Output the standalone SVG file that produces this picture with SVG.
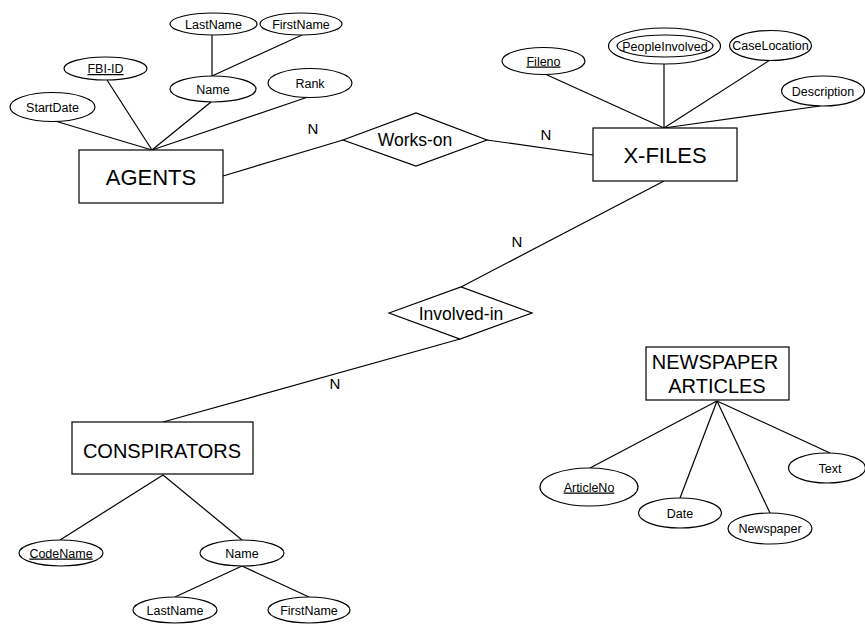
<svg xmlns="http://www.w3.org/2000/svg" width="865" height="624" viewBox="0 0 865 624">
<style>
  .shape { fill: #ffffff; stroke: #000000; stroke-width: 1.2; }
  .line { fill: none; stroke: #000000; stroke-width: 1.2; }
  text { font-family: "Liberation Sans", Arial, Helvetica, sans-serif; fill: #000000; text-anchor: middle; }
  .attr { font-size: 12.5px; }
  .key { font-size: 12.5px; text-decoration: underline; }
  .ent { font-size: 22px; }
  .ent2 { font-size: 20px; }
  .rel { font-size: 17.5px; }
  .card { font-size: 15px; }
</style>
<rect width="865" height="624" fill="#ffffff"/>
<g id="connectors">
  <!-- AGENTS attributes -->
  <line class="line" x1="55" y1="121" x2="152" y2="150"/>
  <line class="line" x1="107" y1="80" x2="152" y2="150"/>
  <line class="line" x1="211" y1="102" x2="152" y2="150"/>
  <line class="line" x1="308" y1="97" x2="152" y2="150"/>
  <line class="line" x1="212" y1="35" x2="212" y2="76"/>
  <line class="line" x1="302" y1="35" x2="212" y2="76"/>
  <!-- X-FILES attributes -->
  <line class="line" x1="545" y1="74" x2="664" y2="128"/>
  <line class="line" x1="664" y1="64" x2="664" y2="128"/>
  <line class="line" x1="770" y1="60" x2="664" y2="128"/>
  <line class="line" x1="820" y1="106" x2="664" y2="128"/>
  <!-- relationships -->
  <line class="line" x1="223" y1="176" x2="343" y2="140"/>
  <line class="line" x1="487" y1="140" x2="593" y2="155"/>
  <line class="line" x1="664" y1="181" x2="461" y2="287"/>
  <line class="line" x1="460" y1="339" x2="163" y2="422"/>
  <!-- CONSPIRATORS attributes -->
  <line class="line" x1="163" y1="475" x2="60" y2="540"/>
  <line class="line" x1="163" y1="475" x2="242" y2="540"/>
  <line class="line" x1="242" y1="566" x2="175" y2="597"/>
  <line class="line" x1="242" y1="566" x2="309" y2="597"/>
  <!-- NEWSPAPER ARTICLES attributes -->
  <line class="line" x1="717" y1="401" x2="590" y2="468"/>
  <line class="line" x1="717" y1="401" x2="680" y2="498"/>
  <line class="line" x1="717" y1="401" x2="770" y2="513"/>
  <line class="line" x1="717" y1="401" x2="830" y2="453"/>
</g>
<g id="cardinalities">
  <text class="card" x="313" y="134">N</text>
  <text class="card" x="546" y="140">N</text>
  <text class="card" x="517" y="247">N</text>
  <text class="card" x="335" y="389">N</text>
</g>
<g id="agents">
  <rect class="shape" x="79" y="150" width="144" height="53"/>
  <text class="ent" x="151" y="185">AGENTS</text>
</g>
<g id="agents-startdate">
  <ellipse class="shape" cx="52.5" cy="107" rx="42.5" ry="14.5"/>
  <text class="attr" x="52.5" y="111.5">StartDate</text>
</g>
<g id="agents-fbiid">
  <ellipse class="shape" cx="105.5" cy="68.5" rx="41.5" ry="11.5"/>
  <text class="key" x="105.5" y="73">FBI-ID</text>
</g>
<g id="agents-name">
  <ellipse class="shape" cx="213" cy="89" rx="43" ry="13"/>
  <text class="attr" x="213" y="93.5">Name</text>
</g>
<g id="agents-lastname">
  <ellipse class="shape" cx="213.5" cy="24" rx="43.5" ry="11"/>
  <text class="attr" x="213.5" y="28.5">LastName</text>
</g>
<g id="agents-firstname">
  <ellipse class="shape" cx="301" cy="24" rx="41" ry="11"/>
  <text class="attr" x="301" y="28.5">FirstName</text>
</g>
<g id="agents-rank">
  <ellipse class="shape" cx="310" cy="83" rx="42" ry="14.5"/>
  <text class="attr" x="310" y="87.5">Rank</text>
</g>
<g id="works-on">
  <polygon class="shape" points="343,140 416,113 487,140 416,166"/>
  <text class="rel" x="415" y="146">Works-on</text>
</g>
<g id="xfiles">
  <rect class="shape" x="593" y="128" width="144" height="53"/>
  <text class="ent" x="665" y="163">X-FILES</text>
</g>
<g id="xfiles-fileno">
  <ellipse class="shape" cx="543.5" cy="61" rx="41.5" ry="13.5"/>
  <text class="key" x="543.5" y="65.5">Fileno</text>
</g>
<g id="xfiles-peopleinvolved">
  <ellipse class="shape" cx="664.5" cy="46" rx="56" ry="18"/>
  <ellipse class="shape" cx="665" cy="46" rx="48" ry="11"/>
  <text class="attr" x="665" y="50.5">PeopleInvolved</text>
</g>
<g id="xfiles-caselocation">
  <ellipse class="shape" cx="770.5" cy="45.5" rx="41" ry="15"/>
  <text class="attr" x="770.5" y="50">CaseLocation</text>
</g>
<g id="xfiles-description">
  <ellipse class="shape" cx="823" cy="91" rx="41.5" ry="15"/>
  <text class="attr" x="823" y="95.5">Description</text>
</g>
<g id="involved-in">
  <polygon class="shape" points="389,313 461,287 532,313 460,339"/>
  <text class="rel" x="461" y="320">Involved-in</text>
</g>
<g id="conspirators">
  <rect class="shape" x="72" y="422" width="181" height="52"/>
  <text class="ent2" x="162" y="458">CONSPIRATORS</text>
</g>
<g id="conspirators-codename">
  <ellipse class="shape" cx="61" cy="553" rx="42" ry="13"/>
  <text class="key" x="61" y="557.5">CodeName</text>
</g>
<g id="conspirators-name">
  <ellipse class="shape" cx="242" cy="553" rx="42" ry="13"/>
  <text class="attr" x="242" y="557.5">Name</text>
</g>
<g id="conspirators-lastname">
  <ellipse class="shape" cx="175" cy="610" rx="42" ry="13"/>
  <text class="attr" x="175" y="614.5">LastName</text>
</g>
<g id="conspirators-firstname">
  <ellipse class="shape" cx="309" cy="610" rx="41" ry="13"/>
  <text class="attr" x="309" y="614.5">FirstName</text>
</g>
<g id="newspaper-articles">
  <rect class="shape" x="646" y="347" width="143" height="53"/>
  <text class="ent2" x="715" y="369">NEWSPAPER</text>
  <text class="ent2" x="717" y="393">ARTICLES</text>
</g>
<g id="na-articleno">
  <ellipse class="shape" cx="589" cy="487" rx="49" ry="19"/>
  <text class="key" x="589" y="491.5">ArticleNo</text>
</g>
<g id="na-date">
  <ellipse class="shape" cx="680" cy="513" rx="41.5" ry="15"/>
  <text class="attr" x="680" y="517.5">Date</text>
</g>
<g id="na-newspaper">
  <ellipse class="shape" cx="770" cy="528.5" rx="42" ry="15.5"/>
  <text class="attr" x="770" y="533">Newspaper</text>
</g>
<g id="na-text">
  <ellipse class="shape" cx="827" cy="468" rx="38.5" ry="15"/>
  <text class="attr" x="830" y="472.5">Text</text>
</g>
</svg>
